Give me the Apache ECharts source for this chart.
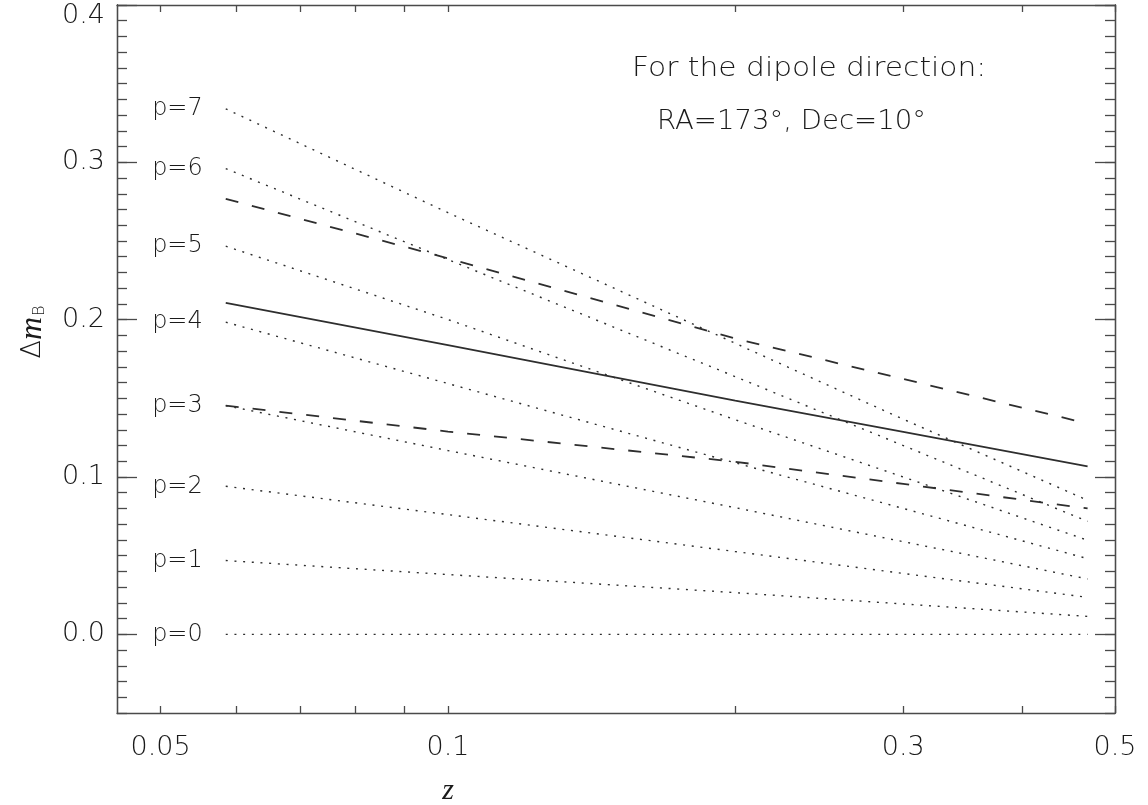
<!DOCTYPE html>
<html>
<head>
<meta charset="utf-8">
<script src="https://cdn.jsdelivr.net/npm/echarts@6/dist/echarts.min.js"></script>
<style>
  html, body { margin: 0; padding: 0; background: #ffffff; }
  #chart { width: 1148px; height: 805px; }
</style>
</head>
<body>
<div id="chart"></div>
<script>
// Redshift samples at which each curve is tabulated
const zValues = [0.0585, 0.1, 0.2, 0.3, 0.468];

// Magnitude offsets for the dipole models p = 0 ... 7
const p0 = [0, 0, 0, 0, 0];
const p1 = [0.0469, 0.0380, 0.0265, 0.0193, 0.0114];
const p2 = [0.0941, 0.0761, 0.0526, 0.0387, 0.0235];
const p3 = [0.1454, 0.1168, 0.0805, 0.0589, 0.0352];
const p4 = [0.1984, 0.1594, 0.1090, 0.0800, 0.0481];
const p5 = [0.2467, 0.2001, 0.1364, 0.1000, 0.0598];
const p6 = [0.2960, 0.2382, 0.1638, 0.1200, 0.0718];
const p7 = [0.3340, 0.2680, 0.1850, 0.1367, 0.0852];
const pCurves = [p0, p1, p2, p3, p4, p5, p6, p7];
const pLabels = ['p=0', 'p=1', 'p=2', 'p=3', 'p=4', 'p=5', 'p=6', 'p=7'];

// Best-fit curve and its upper / lower bounds
const bestFit = [0.2107, 0.1838, 0.1485, 0.1287, 0.1068];
const upperBound = [0.2768, 0.2390, 0.1880, 0.1623, 0.1340];
const lowerBound = [0.1454, 0.1289, 0.1097, 0.0956, 0.0800];

// Axis ticks and labels
const xTickValues = [0.05, 0.06, 0.07, 0.08, 0.09, 0.1, 0.2, 0.3, 0.4, 0.5];
const xLabelValues = [0.05, 0.1, 0.3, 0.5];
const yMajorTicks = [0.0, 0.1, 0.2, 0.3, 0.4];
const yMinorTicks = [];
for (let i = -5; i <= 40; i++) yMinorTicks.push(i / 100);

const annotationLines = ['For the dipole direction:', 'RA=173\u00B0, Dec=10\u00B0'];

const FONT = "'DejaVu Sans', 'Liberation Sans', sans-serif";
const TEXT_WEIGHT = 200;
const INK = '#1a1a1a';
const AXIS_INK = '#4a4a4a';
const LINE_INK = '#2e2e2e';

const X_MIN = 0.045, X_MAX = 0.5;
const Y_MIN = -0.05, Y_MAX = 0.4;

function pairs(values) {
  return zValues.map((z, i) => [z, values[i]]);
}

const axisLine = { show: true, onZero: false, lineStyle: { color: AXIS_INK, width: 1.3 } };

function xAxisDef(position, withLabels) {
  return {
    type: 'log',
    logBase: 10,
    min: X_MIN,
    max: X_MAX,
    position: position,
    axisLine: axisLine,
    splitLine: { show: false },
    minorTick: { show: false },
    axisTick: {
      show: true, inside: true, length: 7,
      customValues: xTickValues,
      lineStyle: { color: AXIS_INK, width: 1.3 }
    },
    axisLabel: withLabels ? {
      show: true,
      customValues: xLabelValues,
      formatter: v => String(v),
      margin: 21,
      fontFamily: FONT, fontWeight: TEXT_WEIGHT, fontSize: 27, color: INK
    } : { show: false },
    name: withLabels ? 'z' : '',
    nameLocation: 'middle',
    nameGap: 63,
    nameTextStyle: {
      fontFamily: "'Liberation Serif', 'DejaVu Serif', serif",
      fontStyle: 'italic', fontSize: 30, color: INK,
      padding: [0, 336, 0, 0]
    }
  };
}

function yAxisDef(position, ticks, len, withLabels) {
  const labelRich = {
    n: { fontFamily: FONT, fontWeight: TEXT_WEIGHT, fontSize: 27, color: INK },
    top: { fontFamily: FONT, fontWeight: TEXT_WEIGHT, fontSize: 27, color: INK, padding: [21, 0, 0, 0] }
  };
  return {
    type: 'value',
    min: Y_MIN,
    max: Y_MAX,
    position: position,
    axisLine: axisLine,
    splitLine: { show: false },
    axisTick: {
      show: true, inside: true, length: len,
      customValues: ticks,
      lineStyle: { color: AXIS_INK, width: 1.3 }
    },
    axisLabel: withLabels ? {
      show: true,
      customValues: yMajorTicks,
      margin: 12,
      formatter: v => (Math.abs(v - Y_MAX) < 1e-9 ? '{top|' : '{n|') + v.toFixed(1) + '}',
      rich: labelRich
    } : { show: false },
    name: withLabels ? '{d|\u0394}{m|m}{s|B}' : '',
    nameLocation: 'middle',
    nameRotate: 90,
    nameGap: 68,
    nameTextStyle: {
      padding: [0, 0, 0, 54],
      rich: {
        d: { fontFamily: FONT, fontWeight: TEXT_WEIGHT, fontSize: 27, color: INK },
        m: { fontFamily: "'Liberation Serif', 'DejaVu Serif', serif", fontStyle: 'italic', fontSize: 32, color: INK },
        s: { fontFamily: FONT, fontWeight: TEXT_WEIGHT, fontSize: 16, color: INK, padding: [14, 0, 0, 1] }
      }
    }
  };
}

const series = [];

pCurves.forEach((vals, k) => {
  const data = pairs(vals).map((pt, i) => i === 0 ? {
    value: pt,
    label: {
      show: true, position: 'left', distance: 23,
      formatter: pLabels[k],
      fontFamily: FONT, fontWeight: TEXT_WEIGHT, fontSize: 24, color: INK
    }
  } : { value: pt });
  series.push({
    name: pLabels[k],
    type: 'line',
    data: data,
    showSymbol: true,
    showAllSymbol: true,
    symbol: 'circle',
    symbolSize: 0,
    itemStyle: { color: 'rgba(0,0,0,0)', borderWidth: 0 },
    label: { show: false },
    labelLayout: { hideOverlap: false },
    lineStyle: { color: LINE_INK, width: 1.4, type: [2, 6.7], cap: 'butt' },
    emphasis: { disabled: true },
    silent: true,
    z: 2
  });
});

series.push({
  name: 'best fit',
  type: 'line',
  data: pairs(bestFit),
  showSymbol: false,
  lineStyle: { color: LINE_INK, width: 1.7, type: 'solid' },
  emphasis: { disabled: true },
  silent: true,
  z: 3
});

[upperBound, lowerBound].forEach((vals, i) => {
  series.push({
    name: i === 0 ? 'upper bound' : 'lower bound',
    type: 'line',
    data: pairs(vals),
    showSymbol: false,
    lineStyle: { color: LINE_INK, width: 1.8, type: [13, 14], cap: 'butt' },
    emphasis: { disabled: true },
    silent: true,
    z: 3
  });
});

const chart = echarts.init(document.getElementById('chart'), null, { renderer: 'canvas' });

// Annotation block: left edge, vertical centre and horizontal stretch of each line
const annotationX = [632, 657];
const annotationY = [68.5, 122];
const annotationStretch = [1.1, 1.02];

chart.setOption({
  backgroundColor: '#ffffff',
  animation: false,
  grid: {
    left: 117, right: 33, top: 5, bottom: 92,
    containLabel: false,
    outerBoundsMode: 'none'
  },
  xAxis: [
    xAxisDef('bottom', true),
    xAxisDef('top', false)
  ],
  yAxis: [
    yAxisDef('left', yMajorTicks, 20, true),
    yAxisDef('left', yMinorTicks, 10, false),
    yAxisDef('right', yMajorTicks, 20, false),
    yAxisDef('right', yMinorTicks, 10, false)
  ],
  series: series,
  graphic: annotationLines.map((txt, i) => ({
    type: 'text',
    x: annotationX[i],
    y: annotationY[i],
    scaleX: annotationStretch[i],
    silent: true,
    style: {
      text: txt,
      fontFamily: FONT,
      fontWeight: TEXT_WEIGHT,
      fontSize: 27,
      fill: INK,
      textAlign: 'left',
      textVerticalAlign: 'middle'
    }
  }))
});
</script>
</body>
</html>
